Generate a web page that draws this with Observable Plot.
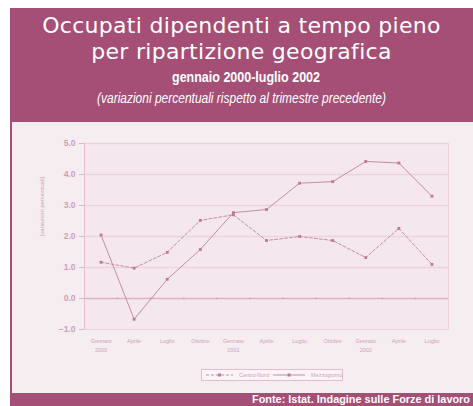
<!DOCTYPE html>
<html><head><meta charset="utf-8">
<script src="https://cdn.jsdelivr.net/npm/d3@7"></script>
<script src="https://cdn.jsdelivr.net/npm/@observablehq/plot@0.6"></script>
<style>
body{margin:0;background:#fff;}
#wrap{position:relative;width:473px;height:406px;overflow:hidden;background:#fff;}
.band{position:absolute;background:#a54f77;}
.t{position:absolute;left:10px;width:463px;text-align:center;color:#fff;white-space:nowrap;}
.fit{position:absolute;color:#fff;white-space:nowrap;display:inline-block;}
#panel{position:absolute;left:12px;top:122px;width:461px;height:271px;background:#f6edf1;}
</style></head>
<body><div id="wrap">
<div class="band" style="left:10px;top:8px;width:463px;height:114px;"></div>
<div class="band" style="left:10px;top:122px;width:2px;height:271px;"></div>
<div class="band" style="left:10px;top:393px;width:463px;height:13px;"></div>
<div class="t" style="top:13px;font:22px 'DejaVu Sans';line-height:26px;letter-spacing:0.3px;">Occupati dipendenti a tempo pieno<br>per ripartizione geografica</div>
<span class="fit" data-l="172" data-w="148" style="top:69px;font:bold 14px 'Liberation Sans';line-height:16px;">gennaio 2000-luglio 2002</span>
<span class="fit" data-l="97" data-w="289" style="top:90px;font:italic 14px 'Liberation Sans';line-height:16px;">(variazioni percentuali rispetto al trimestre precedente)</span>
<span class="fit" data-l="252" data-w="218" style="top:393px;font:bold 11.5px 'Liberation Sans';line-height:13px;">Fonte: Istat. Indagine sulle Forze di lavoro</span>
<div id="panel"></div>
</div>
<script>
const categories = ["Gennaio\n2000","Aprile","Luglio","Ottobre","Gennaio\n2001","Aprile","Luglio","Ottobre","Gennaio\n2002","Aprile","Luglio"];
const mezzogiorno = [2.05,-0.67,0.62,1.58,2.77,2.87,3.72,3.77,4.42,4.37,3.3];
const centroNord = [1.17,0.98,1.49,2.52,2.7,1.87,2.0,1.87,1.32,2.26,1.1];
const seriesNames = ["Centro-Nord","Mezzogiorno"];
const yTicks = [-1,0,1,2,3,4,5];
const gridValues = [1,2,3,4,5];

const lineColor = "#c98aa7";
const textColor = "#cf9fb8";
const gridColor = "#ecd3de";

// fit condensed texts to their widths
document.querySelectorAll(".fit").forEach(el=>{
  const w = el.getBoundingClientRect().width;
  const s = (+el.dataset.w)/w;
  el.style.left = el.dataset.l + "px";
  el.style.transformOrigin = "0 0";
  el.style.transform = `scaleX(${s})`;
});

const rows = [];
categories.forEach((c,i)=>{
  rows.push({i, v: centroNord[i], s: seriesNames[0]});
  rows.push({i, v: mezzogiorno[i], s: seriesNames[1]});
});
const idx = categories.map((_,i)=>i);
const boundaries = categories.slice(1).map((_,i)=>i+0.5);
const cn = rows.filter(d=>d.s===seriesNames[0]);
const mz = rows.filter(d=>d.s===seriesNames[1]);

const chart = Plot.plot({
  width: 461, height: 271,
  marginLeft: 72, marginRight: 25, marginTop: 21, marginBottom: 64,
  style: {background: "transparent", fontFamily: "'Liberation Sans', Arial, sans-serif"},
  x: {type: "linear", domain: [-0.5, 10.5], axis: null},
  y: {domain: [-1, 5], axis: null},
  marks: [
    Plot.frame({fill: "#f4e8ee", stroke: gridColor}),
    Plot.ruleY(gridValues, {stroke: gridColor, strokeWidth: 1.5}),
    Plot.ruleY([-1], {stroke: gridColor}),
    Plot.ruleX([-0.5], {stroke: "#e3bccf"}),
    Plot.ruleY([0], {stroke: "#deb1c6", strokeWidth: 1.5}),
    Plot.dot(boundaries, {x: d=>d, y: 0, r: 1, fill: "#d9a6be", stroke: null}),
    Plot.axisY(yTicks, {tickFormat: d3.format(".1f"), tickSize: 5, tickPadding: 4, stroke: "#e0b6ca", color: textColor, fill: textColor, fontSize: 8.5, fontWeight: "bold", label: null}),
    Plot.text(["[variazioni percentuali]"], {frameAnchor: "left", rotate: -90, dx: -42, fontSize: 6, fill: textColor}),
    Plot.text(idx, {x: d=>d, y: -1, text: d=>categories[d], dy: 7, lineAnchor: "top", fontSize: 5.5, lineHeight: 1.7, fill: textColor}),
    Plot.line(cn, {x: "i", y: "v", stroke: lineColor, strokeWidth: 1, strokeDasharray: "3,2"}),
    Plot.line(mz, {x: "i", y: "v", stroke: lineColor, strokeWidth: 1}),
    Plot.dot(rows, {x: "i", y: "v", symbol: "square", r: 1.6, fill: "#c07896", stroke: null})
  ]
});
chart.style.position = "absolute";
chart.style.left = "0px";
chart.style.top = "0px";
document.getElementById("panel").appendChild(chart);

// legend
const lg = d3.select("#panel").append("svg").attr("width",143).attr("height",13)
  .style("position","absolute").style("left","189px").style("top","247px");
lg.append("rect").attr("x",0.5).attr("y",0.5).attr("width",141).attr("height",11).attr("fill","#fbf4f7").attr("stroke","#e2bcd0");
const entries = [{name: seriesNames[0], dash: "3,2", x0: 5, x1: 32, tx: 38}, {name: seriesNames[1], dash: null, x0: 72, x1: 104, tx: 110}];
entries.forEach(e=>{
  lg.append("line").attr("x1",e.x0).attr("x2",e.x1).attr("y1",6).attr("y2",6).attr("stroke",lineColor).attr("stroke-dasharray",e.dash);
  lg.append("rect").attr("x",(e.x0+e.x1)/2-1.5).attr("y",4.5).attr("width",3).attr("height",3).attr("fill","#c07896");
  lg.append("text").attr("x",e.tx).attr("y",8).attr("font-size",5.5).attr("font-family","'Liberation Sans'").attr("fill",textColor).text(e.name);
});
</script>
</body></html>
